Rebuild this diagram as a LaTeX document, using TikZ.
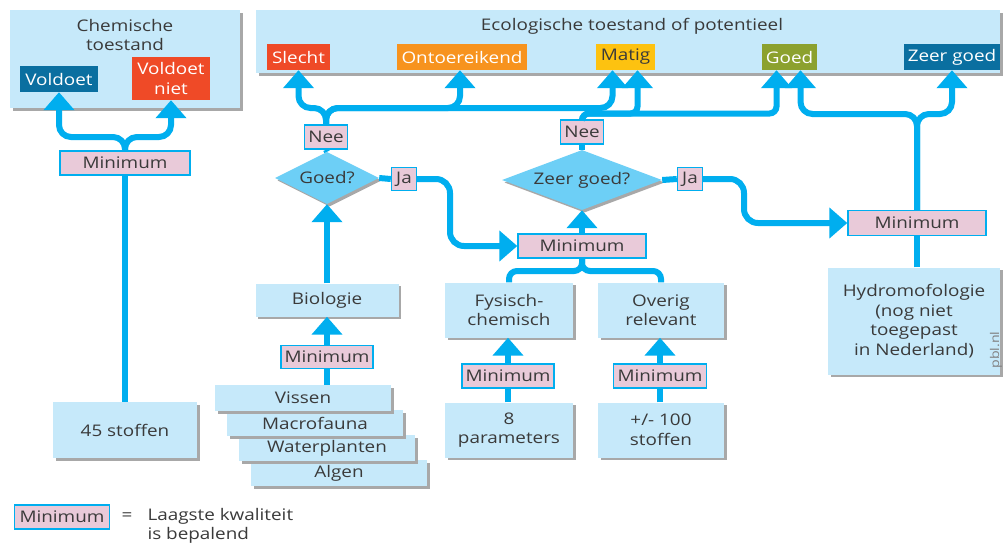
\documentclass[tikz,border=0pt]{standalone}
\usepackage{fontspec}
\setmainfont{Open Sans}[FakeStretch=1.18]
\usetikzlibrary{arrows.meta,shapes.geometric,shadows}
\definecolor{boxblue}{HTML}{C6E9FA}
\definecolor{conncol}{HTML}{00AEEF}
\definecolor{diamcol}{HTML}{6DCFF6}
\definecolor{pinkc}{HTML}{E9CAD9}
\definecolor{txt}{HTML}{3A3A3A}
\definecolor{redc}{HTML}{EF4A27}
\definecolor{orangec}{HTML}{F7931E}
\definecolor{yellowc}{HTML}{FDC210}
\definecolor{olivec}{HTML}{8CA12E}
\definecolor{darkbluec}{HTML}{0A6FA0}
\definecolor{shadowc}{HTML}{A8A8A8}
\tikzset{
  sh/.style={drop shadow={shadow xshift=2.5pt, shadow yshift=-2.5pt, fill=shadowc, opacity=1}},
  lbox/.style={fill=boxblue, sh, inner sep=0, align=center},
  minbox/.style={fill=pinkc, draw=conncol, line width=1.4pt, inner sep=0, minimum height=24},
  tag/.style={inner sep=0, minimum height=26, text=white, align=center},
  conn/.style={draw=conncol, line width=6pt, rounded corners=12pt},
  arr/.style={-{Triangle[length=18pt,width=30pt]}},
  dia/.style={diamond, fill=diamcol, inner sep=0, sh},
}
\begin{document}
\begin{tikzpicture}[x=1pt, y=-1pt, font=\fontsize{16}{19.5}\selectfont, text=txt]
\fill[white] (0,0) rectangle (1007,544);
\useasboundingbox (0,0) rectangle (1007,544);

% Chemische toestand panel
\node[lbox, minimum width=230, minimum height=98] (chem) at (125,59) {};
\node[align=center] (chemt) at (125,35) {Chemische\\toestand};
\node[tag, fill=darkbluec, minimum width=78] (voldoet) at (59,79) {Voldoet};
\node[tag, fill=redc, minimum width=78, minimum height=43] (vniet) at (171,78.5) {Voldoet\\niet};

% Ecologische panel
\node[lbox, minimum width=744, minimum height=63] (eco) at (628,41.5) {};
\node (ecot) at (632,26) {Ecologische toestand of potentieel};
\node[tag, fill=redc, minimum width=63] (slecht) at (298.5,57) {Slecht};
\node[tag, fill=orangec, minimum width=130] (ontoer) at (462,57) {Ontoereikend};
\node[tag, fill=yellowc, minimum width=59, text=txt] (matig) at (625.5,57) {Matig};
\node[tag, fill=olivec, minimum width=55] (goed) at (789.5,57) {Goed};
\node[tag, fill=darkbluec, minimum width=96] (zgoed) at (952,57) {Zeer goed};

% left chain
\node[minbox, minimum width=130] (minC) at (125,163) {Minimum};
\node[lbox, minimum width=144, minimum height=56] (s45) at (125,430) {45 stoffen};

% Goed? branch
\node[minbox, minimum width=43] (nee1) at (326,137) {Nee};
\node[dia, minimum width=104, minimum height=52] (d1) at (327,178) {\makebox[0pt]{Goed?}};
\node[minbox, minimum width=25, minimum height=23] (ja1) at (404,179) {Ja};
\node[lbox, minimum width=143, minimum height=33] (bio) at (327,300) {Biologie};
\node[minbox, minimum width=92, minimum height=23] (minB) at (327,357) {Minimum};
\node[lbox, minimum width=176, minimum height=26] (algen) at (339,473) {Algen};
\node[lbox, minimum width=176, minimum height=26] (water) at (327,448) {Waterplanten};
\node[lbox, minimum width=176, minimum height=26] (macro) at (315,423) {Macrofauna};
\node[lbox, minimum width=176, minimum height=26] (vissen) at (303,398) {Vissen};

% Zeer goed? branch
\node[minbox, minimum width=43] (nee2) at (582,132) {Nee};
\node[dia, minimum width=160, minimum height=60] (d2) at (582,180) {\makebox[0pt]{Zeer goed?}};
\node[minbox, minimum width=25, minimum height=23] (ja2) at (690,179) {Ja};
\node[minbox, minimum width=128] (min2) at (582,246) {Minimum};
\node[lbox, minimum width=128, minimum height=55] (fys) at (509,310) {Fysisch-\\chemisch};
\node[lbox, minimum width=126, minimum height=55] (ovr) at (661,310) {Overig\\relevant};
\node[minbox, minimum width=92] (minF) at (508,376) {Minimum};
\node[minbox, minimum width=93] (minO) at (660,376) {Minimum};
\node[lbox, minimum width=128, minimum height=55] (p8) at (509,430) {8\\parameters};
\node[lbox, minimum width=126, minimum height=55] (p100) at (661,430) {+/- 100\\stoffen};

% right
\node[minbox, minimum width=138, minimum height=25] (min3) at (917,223) {Minimum};
\node[lbox, minimum width=172, minimum height=107] (hydro) at (914,321) {Hydromofologie\\(nog niet\\toegepast\\in Nederland)};
\node[rotate=90, font=\fontsize{12}{14}\selectfont, text=gray] (pbl) at (996,350) {pbl.nl};

% legend
\node[minbox, minimum width=95] (minL) at (62,517) {Minimum};
\node (eq) at (127,517) {=};
\node[anchor=west, align=left] (legt) at (144,526) {Laagste kwaliteit\\is bepalend};

% connectors: chemisch
\draw[conn] (s45.north) -- (minC.south);
\draw[conn, arr] (minC.north) -- (125,137) -| (voldoet.south);
\draw[conn, arr] (minC.north) -- (125,137) -| (vniet.south);

% Nee1 to Slecht, Ontoereikend, Matig
\draw[conn] (d1.north) -- (nee1.south);
\draw[conn, arr] (nee1.north) -- (326,108) -| (slecht.south);
\draw[conn, arr] (nee1.north) -- (326,108) -| ([xshift=-2pt]ontoer.south);
\draw[conn, arr] (nee1.north) -- (326,108) -| ([xshift=-13pt]matig.south);

% Nee2 to Matig, Goed
\draw[conn] (d2.north) -- (nee2.south);
\draw[conn, arr, rounded corners=7pt] (nee2.north) -- (582,113.5) -| ([xshift=12pt]matig.south);
\draw[conn, arr, rounded corners=7pt] (nee2.north) -- (582,113.5) -| ([xshift=-13pt]goed.south);

% Minimum3 to Goed, Zeer goed
\draw[conn, arr] (min3.north) -- (917,114) -| ([xshift=11pt]goed.south);
\draw[conn, arr] (min3.north) -- (917,114) -| (zgoed.south);
\draw[conn] (hydro.north -| min3.south) -- (min3.south);

% Ja paths
\draw[conn] (d1.east) -- (ja1.west);
\draw[conn, arr, rounded corners=14pt] (ja1.east) -- (450,179) -- (450,246) -- (min2.west);
\draw[conn] (d2.east) -- (ja2.west);
\draw[conn, arr, rounded corners=14pt] (ja2.east) -- (744,179) -- (744,223) -- (min3.west);

% Minimum2
\draw[conn, arr] (min2.north) -- (d2.south);
\draw[conn, rounded corners=8pt] (min2.south) -- (582,271) -| (fys.north);
\draw[conn, rounded corners=8pt] (min2.south) -- (582,271) -| (ovr.north);

% biologie
\draw[conn, arr] (bio.north) -- (d1.south);
\draw[conn, arr] (minB.north) -- (bio.south);
\draw[conn] (vissen.north -| minB.south) -- (minB.south);

% fys / overig
\draw[conn, arr] (minF.north) -- (minF.north |- fys.south);
\draw[conn] (p8.north -| minF.south) -- (minF.south);
\draw[conn, arr] (minO.north) -- (minO.north |- ovr.south);
\draw[conn] (p100.north -| minO.south) -- (minO.south);
\end{tikzpicture}
\end{document}
